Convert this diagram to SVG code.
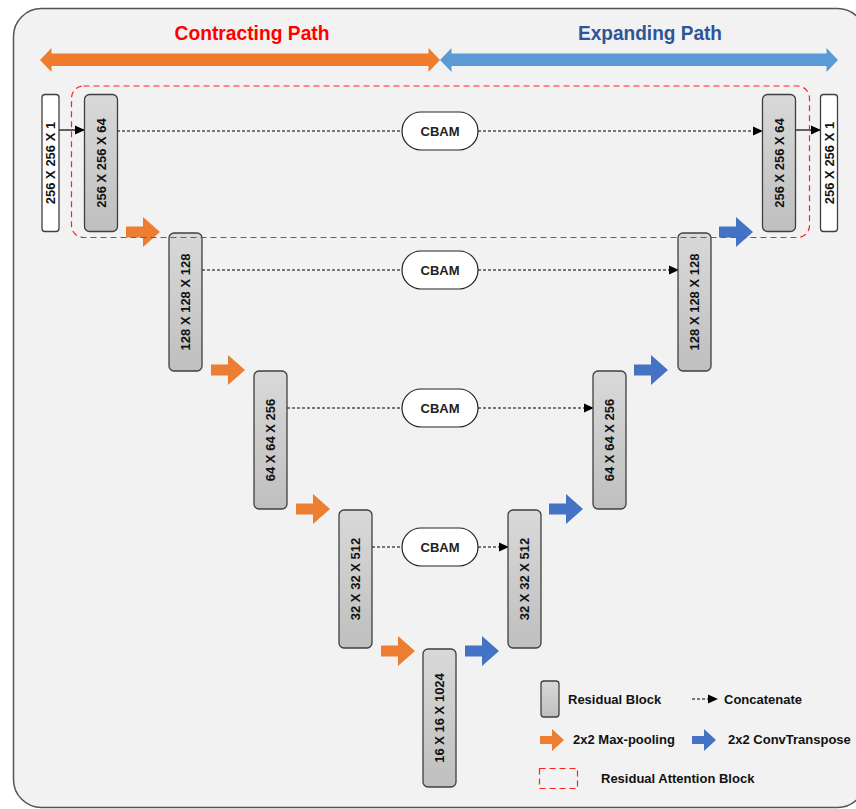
<svg xmlns="http://www.w3.org/2000/svg" width="856" height="809" viewBox="0 0 856 809">
<defs>
<linearGradient id="gblk" x1="0" y1="0" x2="0" y2="1">
<stop offset="0" stop-color="#d9d9d9"/>
<stop offset="1" stop-color="#bfbfbf"/>
</linearGradient>
<marker id="ah" markerWidth="10" markerHeight="10" refX="9" refY="5" orient="auto" markerUnits="userSpaceOnUse">
<path d="M0,0.5 L10,5 L0,9.5 Z" fill="#000"/>
</marker>
<path id="parr" d="M0,-5.5 L17,-5.5 L17,-15 L34,0 L17,15 L17,5.5 L0,5.5 Z"/>
<path id="parrS" d="M0,-4 L12,-4 L12,-11 L24,0 L12,11 L12,4 L0,4 Z"/>
</defs>
<style>
.blk{fill:url(#gblk);stroke:#3f3f3f;stroke-width:1.3}
.io{fill:#fff;stroke:#3f3f3f;stroke-width:1.3}
.lbl{font-family:"Liberation Sans",Arial,sans-serif;font-weight:bold;font-size:13px;fill:#111;text-anchor:middle;dominant-baseline:central}
.cbam{fill:#fff;stroke:#222;stroke-width:1.2}
.ctx{font-family:"Liberation Sans",Arial,sans-serif;font-weight:bold;font-size:13px;fill:#222;text-anchor:middle;dominant-baseline:central}
.dash{stroke:#000;stroke-width:1;stroke-dasharray:3,2;fill:none}
.solid{stroke:#000;stroke-width:1.2;fill:none}
.org{fill:#ed7d31}
.blu{fill:#4472c4}
.leg{font-family:"Liberation Sans",Arial,sans-serif;font-weight:bold;font-size:13px;fill:#111}
.rab{fill:none;stroke:#ff2020;stroke-width:1.2;stroke-dasharray:6,4}
.title{font-family:"Liberation Sans",Arial,sans-serif;font-weight:bold;font-size:20px;text-anchor:middle}
</style>
<rect x="13.5" y="8.5" width="852" height="799" rx="28" fill="#f2f2f2" stroke="#555" stroke-width="1.5"/>

<g id="titles">
<text class="title" x="252" y="40" fill="#ff0000" textLength="155" lengthAdjust="spacingAndGlyphs">Contracting Path</text>
<text class="title" x="650" y="40" fill="#2f5597" textLength="144" lengthAdjust="spacingAndGlyphs">Expanding Path</text>
</g>
<g id="path-arrows">
<path d="M40,60 L51.5,48 L51.5,53.5 L428.5,53.5 L428.5,48 L440,60 L428.5,72 L428.5,66 L51.5,66 L51.5,72 Z" fill="#ef7b2c"/>
<path d="M440,60 L451.5,48 L451.5,53.5 L826.5,53.5 L826.5,48 L838,60 L826.5,72 L826.5,66 L451.5,66 L451.5,72 Z" fill="#5b9bd5"/>
</g>

<g id="connectors">
<line class="solid" x1="59" y1="130" x2="84" y2="130" marker-end="url(#ah)"/>
<line class="solid" x1="795.5" y1="130" x2="820" y2="130" marker-end="url(#ah)"/>
<line class="dash" x1="117" y1="131" x2="402" y2="131"/>
<line class="dash" x1="478" y1="131" x2="762" y2="131" marker-end="url(#ah)"/>
<line class="dash" x1="202" y1="270" x2="402" y2="270"/>
<line class="dash" x1="478" y1="270" x2="678" y2="270" marker-end="url(#ah)"/>
<line class="dash" x1="287" y1="408" x2="402" y2="408"/>
<line class="dash" x1="478" y1="408" x2="593" y2="408" marker-end="url(#ah)"/>
<line class="dash" x1="372" y1="547" x2="402" y2="547"/>
<line class="dash" x1="478" y1="547" x2="508" y2="547" marker-end="url(#ah)"/>
<use href="#parr" class="org" x="126" y="232"/>
<use href="#parr" class="org" x="211" y="370"/>
<use href="#parr" class="org" x="296" y="509"/>
<use href="#parr" class="org" x="381" y="651"/>
<use href="#parr" class="blu" x="465" y="651"/>
<use href="#parr" class="blu" x="549" y="509"/>
<use href="#parr" class="blu" x="634" y="370"/>
<use href="#parr" class="blu" x="719" y="232"/>
</g>

<g id="input">
<rect class="io" x="42" y="94.5" width="17" height="137" rx="3"/>
<text class="lbl" transform="translate(50.5,163) rotate(-90)">256 X 256 X 1</text>
</g>
<g id="enc1">
<rect class="blk" x="84.5" y="94.5" width="33" height="137" rx="5"/>
<text class="lbl" transform="translate(101,163) rotate(-90)">256 X 256 X 64</text>
</g>
<g id="enc2">
<rect class="blk" x="169" y="233" width="33" height="138" rx="5"/>
<text class="lbl" transform="translate(185.5,302) rotate(-90)">128 X 128 X 128</text>
</g>
<g id="enc3">
<rect class="blk" x="254" y="371" width="33" height="138" rx="5"/>
<text class="lbl" transform="translate(270.5,440) rotate(-90)">64 X 64 X 256</text>
</g>
<g id="enc4">
<rect class="blk" x="339" y="510" width="33" height="138" rx="5"/>
<text class="lbl" transform="translate(355.5,579) rotate(-90)">32 X 32 X 512</text>
</g>
<g id="bottleneck">
<rect class="blk" x="423" y="649" width="33" height="138" rx="5"/>
<text class="lbl" transform="translate(439.5,718) rotate(-90)">16 X 16 X 1024</text>
</g>
<g id="dec4">
<rect class="blk" x="508" y="510" width="33" height="138" rx="5"/>
<text class="lbl" transform="translate(524.5,579) rotate(-90)">32 X 32 X 512</text>
</g>
<g id="dec3">
<rect class="blk" x="593" y="371" width="33" height="138" rx="5"/>
<text class="lbl" transform="translate(609.5,440) rotate(-90)">64 X 64 X 256</text>
</g>
<g id="dec2">
<rect class="blk" x="678" y="233" width="33" height="138" rx="5"/>
<text class="lbl" transform="translate(694.5,302) rotate(-90)">128 X 128 X 128</text>
</g>
<g id="dec1">
<rect class="blk" x="762.5" y="94.5" width="33" height="137" rx="5"/>
<text class="lbl" transform="translate(779,163) rotate(-90)">256 X 256 X 64</text>
</g>
<g id="output">
<rect class="io" x="820.5" y="94.5" width="17" height="137" rx="3"/>
<text class="lbl" transform="translate(829,163) rotate(-90)">256 X 256 X 1</text>
</g>

<g id="cbam1">
<rect class="cbam" x="402" y="112" width="76" height="38" rx="19"/>
<text class="ctx" x="440" y="131">CBAM</text>
</g>
<g id="cbam2">
<rect class="cbam" x="402" y="251" width="76" height="38" rx="19"/>
<text class="ctx" x="440" y="270">CBAM</text>
</g>
<g id="cbam3">
<rect class="cbam" x="402" y="389" width="76" height="38" rx="19"/>
<text class="ctx" x="440" y="408">CBAM</text>
</g>
<g id="cbam4">
<rect class="cbam" x="402" y="528" width="76" height="38" rx="19"/>
<text class="ctx" x="440" y="547">CBAM</text>
</g>

<g id="attention-block">
<rect class="rab" x="71.5" y="86" width="738" height="151.5" rx="12"/>
</g>

<g id="legend">
<rect class="blk" x="541" y="681" width="18" height="36" rx="3"/>
<text class="leg" x="568" y="704">Residual Block</text>
<line class="dash" x1="692" y1="699" x2="717" y2="699" marker-end="url(#ah)"/>
<text class="leg" x="724" y="704">Concatenate</text>
<use href="#parrS" class="org" x="540" y="740"/>
<text class="leg" x="573" y="744">2x2 Max-pooling</text>
<use href="#parrS" class="blu" x="692" y="740"/>
<text class="leg" x="728" y="744">2x2 ConvTranspose</text>
<rect class="rab" x="539.5" y="768.5" width="38" height="20" stroke-dasharray="4,3"/>
<text class="leg" x="601" y="783">Residual Attention Block</text>
</g>
</svg>
